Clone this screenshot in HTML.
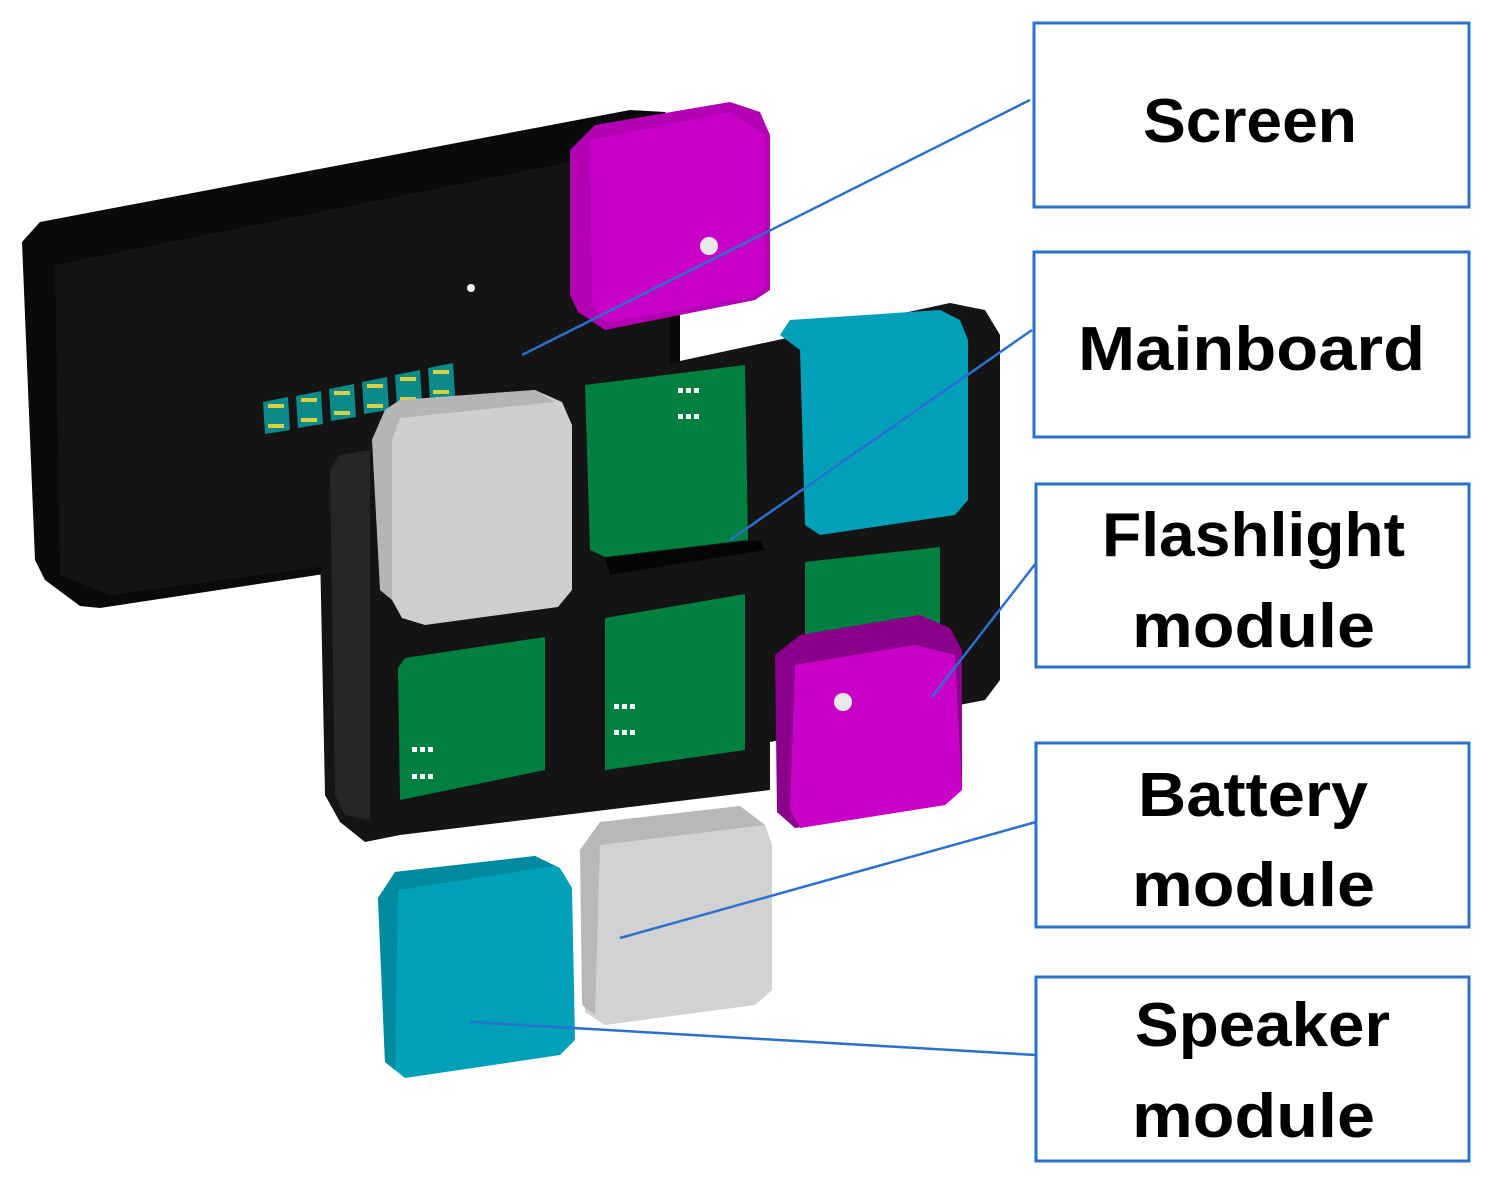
<!DOCTYPE html>
<html><head><meta charset="utf-8"><style>
html,body{margin:0;padding:0;background:#fff;}
svg{display:block;}
text{font-family:"Liberation Sans",sans-serif;font-weight:bold;font-size:62px;fill:#000;}
</style></head><body>
<svg width="1500" height="1188" viewBox="0 0 1500 1188" xmlns="http://www.w3.org/2000/svg">
<polygon points="22,242 40,222 630,110 665,112 680,128 680,520 100,608 80,606 45,580 35,560" fill="#0a0a0a"/>
<polygon points="55,265 630,150 670,160 670,520 110,595 60,575" fill="#141414"/>
<circle cx="471" cy="288" r="4" fill="#fff"/>
<g fill="#0a8a8a">
<polygon points="263,402 288,397 290,430 265,434"/>
<polygon points="296,396 321,391 323,424 298,428"/>
<polygon points="329,389 354,384 356,417 331,421"/>
<polygon points="362,382 387,377 389,410 364,414"/>
<polygon points="395,375 420,370 422,403 397,407"/>
<polygon points="428,368 453,363 455,396 430,400"/>
</g>
<g fill="#d8d040">
<rect x="268" y="404" width="16" height="4"/><rect x="268" y="424" width="16" height="4"/>
<rect x="301" y="398" width="16" height="4"/><rect x="301" y="418" width="16" height="4"/>
<rect x="334" y="391" width="16" height="4"/><rect x="334" y="411" width="16" height="4"/>
<rect x="367" y="384" width="16" height="4"/><rect x="367" y="404" width="16" height="4"/>
<rect x="400" y="377" width="16" height="4"/><rect x="400" y="397" width="16" height="4"/>
<rect x="433" y="370" width="16" height="4"/><rect x="433" y="390" width="16" height="4"/>
</g>
<polygon points="570,150 595,125 730,102 760,112 770,135 770,290 755,300 605,330 578,312 570,295" fill="#b400b4"/>
<polygon points="590,140 730,112 765,135 765,288 750,298 605,322 592,305" fill="#c800c8"/>
<circle cx="709" cy="246" r="9" fill="#e8e8e8"/>
<polygon points="318,450 330,436 950,303 985,310 1000,335 1000,680 985,700 770,742 770,790 400,835 365,842 340,822 325,795" fill="#141414"/>
<polygon points="330,470 340,455 370,450 370,820 345,815 335,795" fill="#262626"/>
<polygon points="372,440 385,410 400,400 535,390 562,402 572,425 572,590 558,607 425,625 402,618 392,600 390,470" fill="#cfcfcf"/>
<polygon points="372,440 385,410 400,400 535,390 555,402 400,418 392,440 392,600 380,590" fill="#b5b5b5"/>
<polygon points="585,385 745,365 748,540 605,557 590,550" fill="#008040"/>
<polygon points="605,558 760,540 765,550 610,575" fill="#050505"/>
<g fill="#fff"><rect x="678" y="388" width="5" height="5"/><rect x="686" y="388" width="5" height="5"/><rect x="694" y="388" width="5" height="5"/>
<rect x="678" y="414" width="5" height="5"/><rect x="686" y="414" width="5" height="5"/><rect x="694" y="414" width="5" height="5"/></g>
<polygon points="780,335 790,320 940,310 960,320 968,340 968,500 955,515 820,535 805,525 800,350" fill="#00a0b8"/>
<polygon points="398,668 405,658 545,637 545,770 400,800" fill="#008040"/>
<polygon points="605,618 745,594 745,750 605,770" fill="#008040"/>
<polygon points="805,562 940,547 940,630 805,650" fill="#008040"/>
<g fill="#fff">
<rect x="412" y="747" width="5" height="5"/><rect x="420" y="747" width="5" height="5"/><rect x="428" y="747" width="5" height="5"/>
<rect x="412" y="774" width="5" height="5"/><rect x="420" y="774" width="5" height="5"/><rect x="428" y="774" width="5" height="5"/>
<rect x="614" y="704" width="5" height="5"/><rect x="622" y="704" width="5" height="5"/><rect x="630" y="704" width="5" height="5"/>
<rect x="614" y="730" width="5" height="5"/><rect x="622" y="730" width="5" height="5"/><rect x="630" y="730" width="5" height="5"/>
</g>
<polygon points="775,655 800,635 920,615 950,628 962,650 962,790 945,805 795,828 777,812" fill="#8a008a"/>
<polygon points="795,665 915,645 955,655 962,790 945,805 800,828 790,810" fill="#c800c8"/>
<circle cx="843" cy="702" r="9" fill="#e8e8e8"/>
<polygon points="580,850 600,822 740,806 765,825 772,845 772,990 755,1005 605,1025 585,1012" fill="#d2d2d2"/>
<polygon points="580,850 600,822 740,806 765,825 600,845 595,1015 582,1005" fill="#b8b8b8"/>
<polygon points="378,898 395,872 535,856 560,868 572,888 575,1040 560,1055 405,1078 385,1062" fill="#00a0b8"/>
<polygon points="378,898 395,872 535,856 555,866 398,890 395,1070 385,1062" fill="#008aa0"/>
<g stroke="#2a70cf" stroke-width="2.5" fill="none">
<line x1="1030" y1="100" x2="522" y2="355"/>
<line x1="1032" y1="330" x2="730" y2="540"/>
<line x1="1036" y1="563" x2="932" y2="697"/>
<line x1="1036" y1="822" x2="620" y2="938"/>
<line x1="1036" y1="1055" x2="470" y2="1022"/>
</g>
<g stroke="#2a70cf" stroke-width="3" fill="#fff">
<rect x="1034" y="23" width="435" height="184"/>
<rect x="1034" y="252" width="435" height="185"/>
<rect x="1036" y="484" width="433" height="183"/>
<rect x="1036" y="743" width="433" height="184"/>
<rect x="1036" y="977" width="433" height="184"/>
</g>
<g>
<text x="1143" y="142" textLength="214" lengthAdjust="spacingAndGlyphs">Screen</text>
<text x="1078" y="370" textLength="347" lengthAdjust="spacingAndGlyphs">Mainboard</text>
<text x="1102" y="556" textLength="303" lengthAdjust="spacingAndGlyphs">Flashlight</text>
<text x="1132" y="647" textLength="243" lengthAdjust="spacingAndGlyphs">module</text>
<text x="1138" y="816" textLength="230" lengthAdjust="spacingAndGlyphs">Battery</text>
<text x="1132" y="906" textLength="243" lengthAdjust="spacingAndGlyphs">module</text>
<text x="1135" y="1046" textLength="255" lengthAdjust="spacingAndGlyphs">Speaker</text>
<text x="1132" y="1137" textLength="243" lengthAdjust="spacingAndGlyphs">module</text>
</g>
</svg>
</body></html>
